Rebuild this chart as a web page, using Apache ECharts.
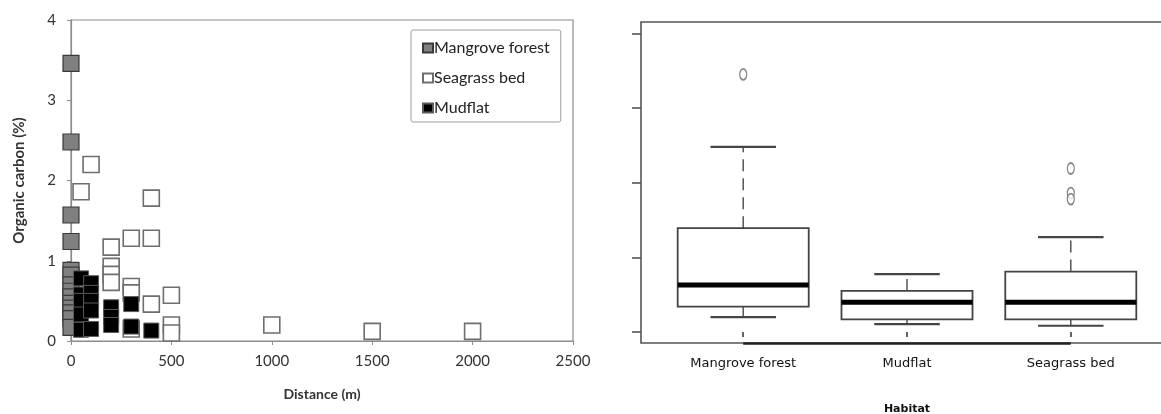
<!DOCTYPE html>
<html>
<head>
<meta charset="utf-8">
<script src="https://cdn.jsdelivr.net/npm/echarts@6/dist/echarts.min.js"></script>
<style>
  html, body { margin: 0; padding: 0; background: #fff; }
  #chart { width: 1161px; height: 414px; }
</style>
</head>
<body>
<div id="chart"></div>
<script>
// ---- Left panel: organic carbon vs distance (scatter) ----
const mangrovePoints = [
  [0, 3.46], [0, 2.48], [0, 1.57], [0, 1.24], [0, 0.88], [0, 0.82], [0, 0.70],
  [0, 0.62], [0, 0.55], [0, 0.47], [0, 0.41], [0, 0.35], [0, 0.28], [0, 0.17]
];
const seagrassPoints = [
  [100, 2.20], [50, 1.86], [400, 1.78], [300, 1.28], [400, 1.28], [200, 1.17],
  [200, 0.93], [200, 0.83], [200, 0.73], [300, 0.68], [300, 0.60], [500, 0.57],
  [400, 0.46], [300, 0.15], [500, 0.20], [500, 0.10], [1000, 0.20], [1500, 0.12], [2000, 0.12]
];
const mudflatPoints = [
  [50, 0.78], [50, 0.58], [50, 0.50], [50, 0.33], [50, 0.14],
  [100, 0.72], [100, 0.60], [100, 0.50], [100, 0.38], [100, 0.15],
  [200, 0.42], [200, 0.30], [200, 0.20],
  [300, 0.46], [300, 0.18],
  [400, 0.13]
];
const distanceTicks = [0, 500, 1000, 1500, 2000, 2500];
const carbonTicks = [0, 1, 2, 3, 4];

// ---- Right panel: boxplot by habitat ----
const habitats = ['Mangrove forest', 'Mudflat', 'Seagrass bed'];
const boxLow = [0.20, 0.107, 0.084];
const boxQ1 = [0.34, 0.17, 0.17];
const boxMedian = [0.63, 0.40, 0.40];
const boxQ3 = [1.39, 0.55, 0.81];
const boxHigh = [2.48, 0.776, 1.27];
const outlierPoints = [[1, 3.45], [3, 2.19], [3, 1.86], [3, 1.78]];

const boxData = habitats.map((h, i) => [i + 1, boxLow[i], boxQ1[i], boxMedian[i], boxQ3[i], boxHigh[i]]);

const chart = echarts.init(document.getElementById('chart'), null, { renderer: 'canvas' });

const FONT = 'Lato, "Open Sans", sans-serif';
const RFONT = '"DejaVu Sans", sans-serif';
const BOX_Y_MIN = -0.147, BOX_Y_MAX = 4.151;

function renderBox(params, api) {
  const x = api.value(0);
  const lo = api.value(1), q1 = api.value(2), med = api.value(3), q3 = api.value(4), hi = api.value(5);
  const hb = 0.4, hc = 0.2;
  const c = (dx, v) => api.coord([x + dx, v]);
  const tl = c(-hb, q3), br = c(hb, q1);
  const stroke = '#444';
  const line = (a, b, style) => ({ type: 'line', shape: { x1: a[0], y1: a[1], x2: b[0], y2: b[1] }, style: style });
  return {
    type: 'group',
    children: [
      line(c(0, q3), c(0, hi), { stroke: '#555', lineWidth: 1.5, lineDash: [12, 7] }),
      line(c(0, q1), c(0, lo), { stroke: '#555', lineWidth: 1.5, lineDash: [12, 7] }),
      line(c(-hc, hi), c(hc, hi), { stroke: stroke, lineWidth: 2.2 }),
      line(c(-hc, lo), c(hc, lo), { stroke: stroke, lineWidth: 2.2 }),
      { type: 'rect', shape: { x: tl[0], y: tl[1], width: br[0] - tl[0], height: br[1] - tl[1] },
        style: { fill: '#fff', stroke: stroke, lineWidth: 1.8 } },
      line(c(-hb, med), c(hb, med), { stroke: '#000', lineWidth: 5 })
    ]
  };
}

function renderAxisLine(params, api) {
  const a = api.coord([api.value(0), BOX_Y_MIN]);
  const b = api.coord([api.value(1), BOX_Y_MIN]);
  return { type: 'line', shape: { x1: a[0], y1: a[1] + 0.5, x2: b[0], y2: b[1] + 0.5 },
           style: { stroke: '#222', lineWidth: 2.6 } };
}

const option = {
  animation: false,
  backgroundColor: '#fff',
  textStyle: { fontFamily: FONT },
  grid: [
    { left: 71, top: 20, width: 502, height: 321, show: true, borderColor: '#8c8c8c', borderWidth: 1.2,
      backgroundColor: 'transparent', outerBoundsMode: 'none', containLabel: false },
    { left: 641, top: 22, width: 532, height: 321, show: true, borderColor: '#555', borderWidth: 1.6,
      backgroundColor: 'transparent', outerBoundsMode: 'none', containLabel: false }
  ],
  legend: {
    left: 411, top: 30, orient: 'vertical',
    data: ['Mangrove forest', 'Seagrass bed', 'Mudflat'],
    icon: 'rect', itemWidth: 10, itemHeight: 9, itemGap: 14,
    padding: [10, 11, 6, 11],
    borderColor: '#a0a0a0', borderWidth: 1, borderRadius: 2,
    backgroundColor: '#fff',
    textStyle: { fontFamily: FONT, fontSize: 16, color: '#222', padding: [0, 0, 0, -4] }
  },
  xAxis: [
    {
      gridIndex: 0, type: 'value', min: 0, max: 2500, interval: 500,
      name: 'Distance (m)', nameLocation: 'middle', nameGap: 46,
      nameTextStyle: { fontFamily: FONT, fontSize: 14, fontWeight: 'bold', color: '#333' },
      axisLine: { show: true, lineStyle: { color: '#8c8c8c', width: 1.2 } },
      axisTick: { show: true, length: 4, lineStyle: { color: '#8c8c8c' } },
      axisLabel: { fontFamily: FONT, fontSize: 15, color: '#333', margin: 13, formatter: (v) => String(v) },
      splitLine: { show: false }
    },
    {
      gridIndex: 1, type: 'value', min: 0.376, max: 3.624,
      name: 'Habitat', nameLocation: 'middle', nameGap: 61,
      nameTextStyle: { fontFamily: RFONT, fontSize: 11, fontWeight: 'bold', color: '#111' },
      axisLine: { show: false },
      axisTick: { show: true, length: 5, customValues: [1, 2, 3], lineStyle: { color: '#333', width: 1.5 } },
      axisLabel: {
        customValues: [1, 2, 3], margin: 14,
        fontFamily: RFONT, fontSize: 13, color: '#111',
        formatter: (v) => habitats[Math.round(v) - 1] || ''
      },
      splitLine: { show: false }
    }
  ],
  yAxis: [
    {
      gridIndex: 0, type: 'value', min: 0, max: 4, interval: 1,
      name: 'Organic carbon (%)', nameLocation: 'middle', nameGap: 44,
      nameTextStyle: { fontFamily: FONT, fontSize: 15, fontWeight: 'bold', color: '#333' },
      axisLine: { show: true, lineStyle: { color: '#8c8c8c', width: 1.2 } },
      axisTick: { show: true, length: 4, lineStyle: { color: '#8c8c8c' } },
      axisLabel: { fontFamily: FONT, fontSize: 15, color: '#333', margin: 15 },
      splitLine: { show: false }
    },
    {
      gridIndex: 1, type: 'value', min: BOX_Y_MIN, max: BOX_Y_MAX,
      axisLine: { show: false },
      axisTick: { show: true, length: 9, customValues: carbonTicks, lineStyle: { color: '#555', width: 1.6 } },
      axisLabel: { show: false },
      splitLine: { show: false }
    }
  ],
  series: [
    {
      name: 'Mangrove forest', type: 'scatter', xAxisIndex: 0, yAxisIndex: 0,
      symbol: 'rect', symbolSize: 16, data: mangrovePoints,
      itemStyle: { color: '#808080', borderColor: '#3a3a3a', borderWidth: 1.2, opacity: 1 }
    },
    {
      name: 'Seagrass bed', type: 'scatter', xAxisIndex: 0, yAxisIndex: 0,
      symbol: 'rect', symbolSize: 16, data: seagrassPoints,
      itemStyle: { color: '#ffffff', borderColor: '#6e6e6e', borderWidth: 1.6, opacity: 1 }
    },
    {
      name: 'Mudflat', type: 'scatter', xAxisIndex: 0, yAxisIndex: 0,
      symbol: 'rect', symbolSize: 15, data: mudflatPoints,
      itemStyle: { color: '#000000', borderColor: '#5a5a5a', borderWidth: 1, opacity: 1 }
    },
    {
      type: 'custom', xAxisIndex: 1, yAxisIndex: 1, clip: false,
      data: [[1, 3]], renderItem: renderAxisLine, silent: true, z: 5
    },
    {
      type: 'custom', xAxisIndex: 1, yAxisIndex: 1,
      data: boxData, renderItem: renderBox, silent: true,
      encode: { x: 0, y: [1, 2, 3, 4, 5] }
    },
    {
      type: 'scatter', xAxisIndex: 1, yAxisIndex: 1,
      symbol: 'circle', symbolSize: [7, 11], data: outlierPoints,
      itemStyle: { color: '#fff', borderColor: '#666', borderWidth: 1.5 }
    }
  ]
};
chart.setOption(option);
</script>
</body>
</html>
